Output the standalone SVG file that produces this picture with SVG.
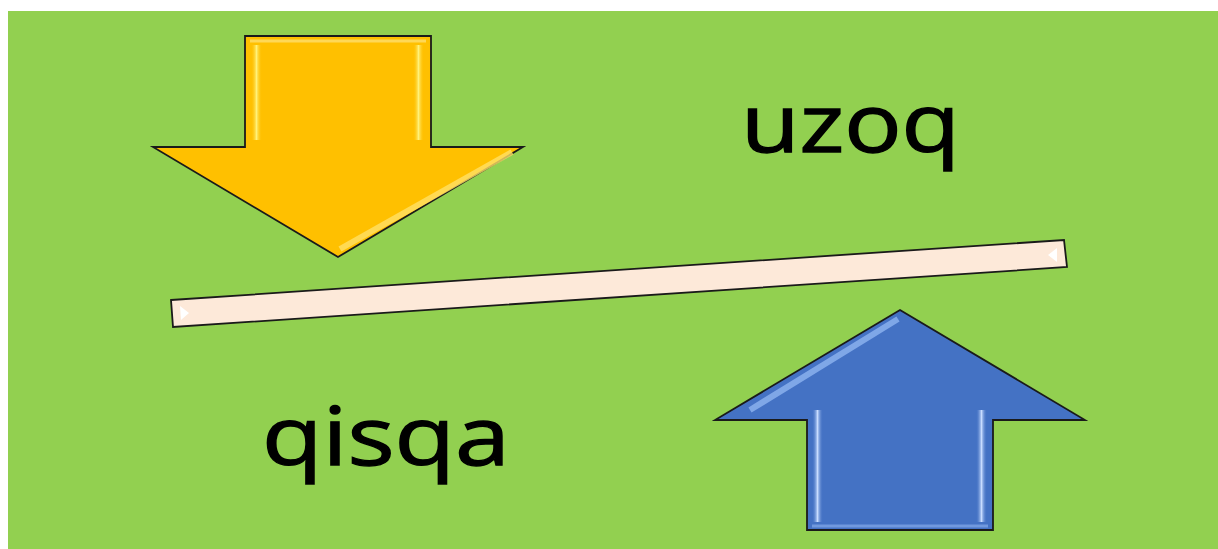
<svg xmlns="http://www.w3.org/2000/svg" width="1218" height="549" viewBox="0 0 1218 549">
<defs>
<style>
.lbl{font-family:"Open Sans","Noto Sans","Liberation Sans",sans-serif;font-size:80px;fill:#000;stroke:#000;stroke-width:1.3}
.edge{stroke:#1a1a1a;stroke-width:1.8;stroke-linejoin:miter}
</style>
<linearGradient id="ystrip" x1="0" y1="0" x2="1" y2="0">
<stop offset="0" stop-color="#FFC000" stop-opacity="0"/>
<stop offset="0.5" stop-color="#FFF27A"/>
<stop offset="1" stop-color="#FFC000" stop-opacity="0"/>
</linearGradient>
<linearGradient id="bstrip" x1="0" y1="0" x2="1" y2="0">
<stop offset="0" stop-color="#4472C4" stop-opacity="0"/>
<stop offset="0.5" stop-color="#C9DDFF"/>
<stop offset="1" stop-color="#4472C4" stop-opacity="0"/>
</linearGradient>
</defs>
<rect x="0" y="0" width="1218" height="549" fill="#ffffff"/>
<rect x="8" y="11" width="1210" height="538" fill="#92D050"/>

<g id="arrow-down">
<polygon class="edge" points="245,36 431,36 431,147 523,147 338,257 153,147 245,147" fill="#FFC000"/>
<rect x="251" y="45" width="11" height="95" fill="url(#ystrip)"/>
<rect x="413" y="45" width="11" height="95" fill="url(#ystrip)"/>
<polyline points="250,41 426,41" stroke="#FFE37A" stroke-width="3" fill="none" opacity="0.7"/>
<polyline points="512,152 340,249" stroke="#FFE066" stroke-width="6" fill="none" opacity="0.8"/>
</g>

<g id="arrow-up">
<polygon class="edge" points="900,310 1085,420 993,420 993,530 807,530 807,420 715,420" fill="#4472C4"/>
<rect x="812" y="410" width="11" height="112" fill="url(#bstrip)"/>
<rect x="976" y="410" width="11" height="112" fill="url(#bstrip)"/>
<polyline points="898,319 750,410" stroke="#8FB4F0" stroke-width="6" fill="none" opacity="0.8"/>
<polyline points="812,526 988,526" stroke="#8FB4F0" stroke-width="3" fill="none" opacity="0.6"/>
</g>

<g id="bar">
<polygon class="edge" points="171,300 1064,240 1067,267 173,327" fill="#FDE9D9"/>
<polygon points="180,306 189,313 181,320" fill="#ffffff"/>
<polygon points="1057,248 1048,255 1057,262" fill="#ffffff"/>
</g>

<g id="label-uzoq">
<text class="lbl" x="741" y="152" textLength="219" lengthAdjust="spacingAndGlyphs">uzoq</text>
</g>
<g id="label-qisqa">
<text class="lbl" x="262" y="465" textLength="248" lengthAdjust="spacingAndGlyphs">qisqa</text>
</g>
</svg>
